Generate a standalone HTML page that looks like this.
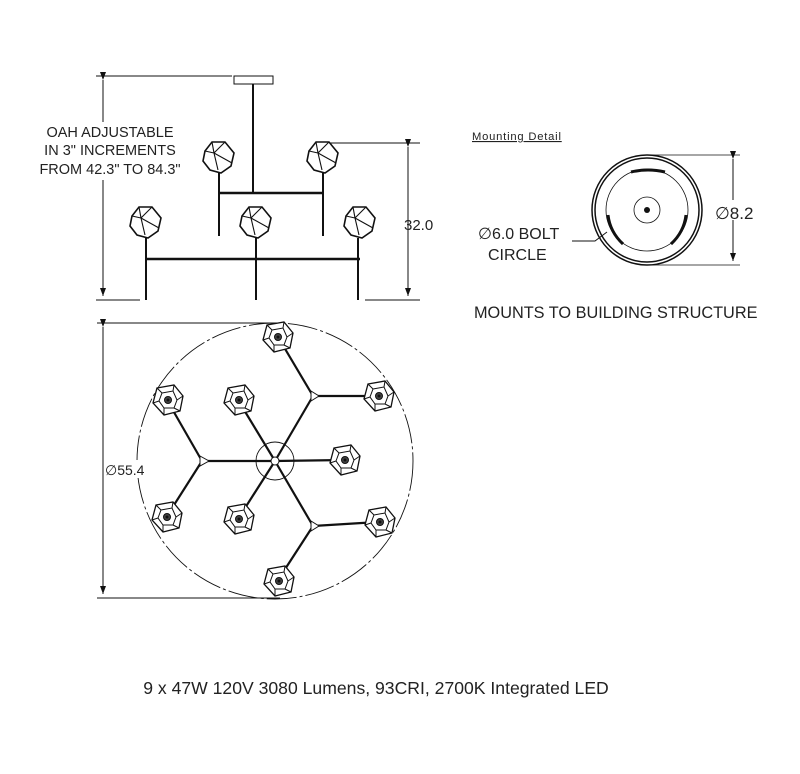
<!DOCTYPE html>
<html><head><meta charset="utf-8"><style>
html,body{margin:0;padding:0;background:#fff;width:800px;height:774px;overflow:hidden}
svg{display:block}
text{font-family:"Liberation Sans",sans-serif;fill:#222}
</style></head><body>
<svg width="800" height="774" viewBox="0 0 800 774" xmlns="http://www.w3.org/2000/svg">
<defs>
<g id="globe">
<path d="M-14,-6 L-7,-15 L6,-15 L15,-4 L12,9 L2,16 L-9,13 L-16,4 Z" fill="#fff" stroke="#111" stroke-width="1.6"/>
<path d="M-7,-15 L-5,-4 L13,6 M-5,-4 L-14,-6 M6,-15 L-5,-4 M-5,-4 L-1,13" fill="none" stroke="#111" stroke-width="1.1"/>
</g>
<g id="pglobe">
<path d="M-11,-12 L6,-15 L15,-4 L12,11 L-4,15 L-15,3 Z" fill="#fff" stroke="#111" stroke-width="1.3"/>
<path d="M-6,-7 L5,-9 L9,0 L6,8 L-4,8 L-9,1 Z" fill="none" stroke="#111" stroke-width="1"/>
<path d="M-11,-12 L-6,-7 M6,-15 L5,-9 M15,-4 L9,0 M12,11 L6,8 M-4,15 L-4,8 M-15,3 L-9,1" stroke="#111" stroke-width="1"/>
<circle r="3.5" fill="#444" stroke="#111"/><circle r="1.5" fill="#111"/>
</g>
<marker id="ar" markerWidth="8" markerHeight="14" refX="8" refY="7" orient="auto" markerUnits="userSpaceOnUse"><path d="M0,4 L8,7 L0,10 Z" fill="#111"/></marker>
</defs>

<!-- Elevation -->
<g stroke="#111" fill="none" stroke-width="1">
<line x1="96" y1="76" x2="232" y2="76"/>
<line x1="96" y1="300" x2="140" y2="300"/>
<line x1="103" y1="80" x2="103" y2="296" marker-start="url(#ar)" marker-end="url(#ar)"/>
<rect x="234" y="76" width="39" height="8" fill="#fff"/>
<line x1="253" y1="84" x2="253" y2="192" stroke-width="2"/>
<line x1="218" y1="193" x2="323" y2="193" stroke-width="2.5"/>
<line x1="219" y1="172" x2="219" y2="236" stroke-width="2"/>
<line x1="323" y1="172" x2="323" y2="236" stroke-width="2"/>
<line x1="145" y1="259" x2="360" y2="259" stroke-width="2.5"/>
<line x1="146" y1="238" x2="146" y2="300" stroke-width="2"/>
<line x1="256" y1="238" x2="256" y2="300" stroke-width="2"/>
<line x1="358" y1="238" x2="358" y2="300" stroke-width="2"/>
<line x1="325" y1="143" x2="420" y2="143"/>
<line x1="365" y1="300" x2="420" y2="300"/>
<line x1="408" y1="147" x2="408" y2="296" marker-start="url(#ar)" marker-end="url(#ar)"/>
</g>
<use href="#globe" x="219" y="157"/>
<use href="#globe" x="323" y="157"/>
<use href="#globe" x="146" y="222"/>
<use href="#globe" x="256" y="222"/>
<use href="#globe" x="360" y="222"/>
<rect x="36" y="122" width="150" height="58" fill="#fff"/>
<text x="110" y="137" font-size="14.5" text-anchor="middle">OAH ADJUSTABLE</text>
<text x="110" y="155" font-size="14.5" text-anchor="middle">IN 3" INCREMENTS</text>
<text x="110" y="174" font-size="14.5" text-anchor="middle">FROM 42.3" TO 84.3"</text>
<rect x="410" y="214" width="24" height="16" fill="#fff"/>
<text x="404" y="230" font-size="15">32.0</text>

<!-- Mounting detail -->
<text x="472" y="140" font-size="11.2" text-decoration="underline" letter-spacing="0.8">Mounting  Detail</text>
<g stroke="#111" fill="none">
<circle cx="647" cy="210" r="55" stroke-width="1.5"/>
<circle cx="647" cy="210" r="52" stroke-width="1.5"/>
<circle cx="647" cy="210" r="41" stroke-width="0.8"/>
<circle cx="647" cy="210" r="13" stroke-width="0.8"/>
<path d="M631,172 Q648,168 665,172" stroke-width="3"/>
<path d="M608,215 Q610,232 623,244" stroke-width="3"/>
<path d="M686,215 Q684,232 671,244" stroke-width="3"/>
<line x1="647" y1="155" x2="740" y2="155" stroke-width="0.8"/>
<line x1="647" y1="265" x2="740" y2="265" stroke-width="0.8"/>
<line x1="733" y1="159" x2="733" y2="261" marker-start="url(#ar)" marker-end="url(#ar)"/>
<path d="M572,241 L595,241 L607,232"/>
</g>
<circle cx="647" cy="210" r="3" fill="#111"/>
<rect x="715" y="200" width="40" height="20" fill="#fff"/>
<text x="715" y="219" font-size="17">∅8.2</text>
<text x="478" y="239" font-size="16">∅6.0 BOLT</text>
<text x="488" y="260" font-size="16">CIRCLE</text>
<text x="474" y="318" font-size="16.3">MOUNTS TO BUILDING STRUCTURE</text>

<!-- Plan -->
<g stroke="#111" fill="none">
<line x1="97" y1="323" x2="280" y2="323"/>
<line x1="97" y1="598" x2="280" y2="598"/>
<line x1="103" y1="327" x2="103" y2="594" marker-start="url(#ar)" marker-end="url(#ar)"/>
<circle cx="275" cy="461" r="138" stroke-dasharray="30 3 3 3" stroke-width="0.9"/>
<circle cx="275" cy="461" r="19" stroke-width="0.9"/>
<g stroke-width="2.2">
<line x1="275" y1="461" x2="202" y2="461"/>
<line x1="275" y1="461" x2="313" y2="396"/>
<line x1="275" y1="461" x2="313" y2="526"/>
<line x1="275" y1="461" x2="238" y2="400"/>
<line x1="275" y1="461" x2="345" y2="460"/>
<line x1="275" y1="461" x2="238" y2="519"/>
<line x1="202" y1="461" x2="167" y2="400"/>
<line x1="202" y1="461" x2="167" y2="516"/>
<line x1="313" y1="396" x2="278" y2="337"/>
<line x1="313" y1="396" x2="378" y2="396"/>
<line x1="313" y1="526" x2="378" y2="522"/>
<line x1="313" y1="526" x2="278" y2="580"/>
</g>
<circle cx="275" cy="461" r="4" fill="#fff"/>
<path d="M200,456 L209,461 L200,466 Z" fill="#fff"/>
<path d="M311,391 L319,396 L311,401 Z" fill="#fff"/>
<path d="M311,521 L319,526 L311,531 Z" fill="#fff"/>
</g>
<use href="#pglobe" x="278" y="337"/>
<use href="#pglobe" x="379" y="396"/>
<use href="#pglobe" x="168" y="400"/>
<use href="#pglobe" x="239" y="400"/>
<use href="#pglobe" x="345" y="460"/>
<use href="#pglobe" x="167" y="517"/>
<use href="#pglobe" x="239" y="519"/>
<use href="#pglobe" x="380" y="522"/>
<use href="#pglobe" x="279" y="581"/>
<rect x="106" y="460" width="36" height="18" fill="#fff"/>
<text x="105" y="475" font-size="14">∅55.4</text>

<text x="376" y="694" font-size="17.6" text-anchor="middle">9 x 47W 120V 3080 Lumens, 93CRI, 2700K Integrated LED</text>
</svg>
</body></html>
